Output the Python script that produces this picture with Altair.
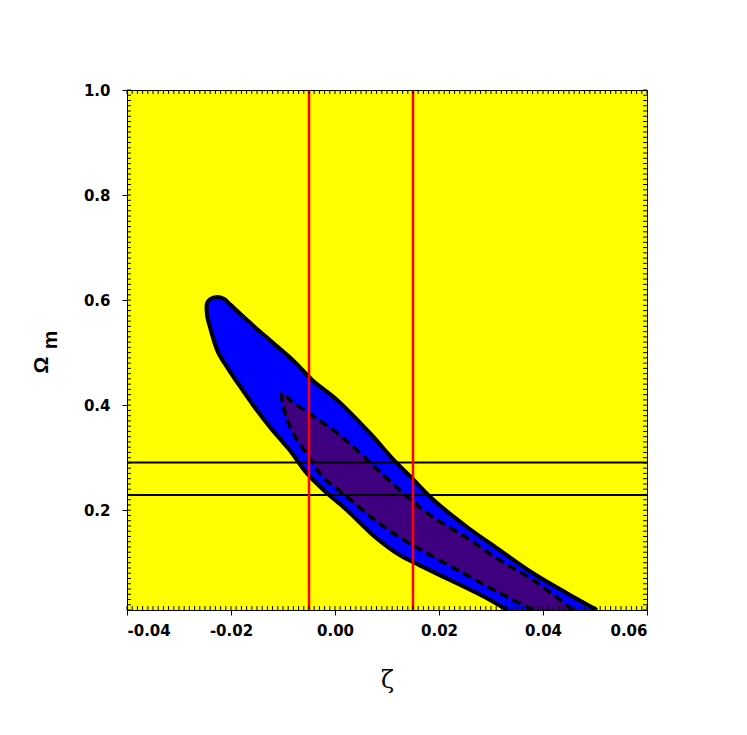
import altair as alt
import pandas as pd

# ---- data ----
# outer (blue) confidence region, from its lower bottom crossing, up the lower edge, round the tip, down the upper edge
outer_zeta = [0.0331, 0.0285, 0.0221, 0.0163, 0.0125, 0.0077, 0.0023, -0.0015, -0.0054, -0.0087,
              -0.0125, -0.0156, -0.0183, -0.0206, -0.0225, -0.0240, -0.0246,
              -0.0246, -0.0240, -0.0227, -0.0213, -0.0202, -0.0167, -0.0121, -0.0077, -0.0044,
              0.0004, 0.0067, 0.0112, 0.0150, 0.0188, 0.0254, 0.0317, 0.0381, 0.0446, 0.0504]
outer_om = [0.010, 0.036, 0.067, 0.095, 0.114, 0.149, 0.200, 0.232, 0.270, 0.314,
            0.358, 0.398, 0.436, 0.470, 0.501, 0.547, 0.571,
            0.594, 0.602, 0.606, 0.602, 0.592, 0.560, 0.520, 0.482, 0.448,
            0.410, 0.347, 0.297, 0.259, 0.221, 0.168, 0.124, 0.080, 0.042, 0.010]

# inner (purple) confidence region
inner_zeta = [0.0381, 0.0317, 0.0254, 0.0188, 0.0125, 0.0073, 0.0015, -0.0023, -0.0054, -0.0081,
              -0.0096, -0.0102, -0.0102,
              -0.0094, -0.0087, -0.0042, 0.0004, 0.0048, 0.0087, 0.0125, 0.0158, 0.0188, 0.0254,
              0.0317, 0.0381, 0.0458]
inner_om = [0.010, 0.042, 0.076, 0.112, 0.148, 0.184, 0.232, 0.263, 0.307, 0.347,
            0.385, 0.410, 0.423,
            0.417, 0.410, 0.379, 0.347, 0.309, 0.272, 0.238, 0.210, 0.187, 0.147,
            0.105, 0.067, 0.010]

red_zeta = [-0.005, 0.015]
black_om = [0.291, 0.229]

x_ticks = [-0.04, -0.02, 0.0, 0.02, 0.04, 0.06]
y_ticks = [0.2, 0.4, 0.6, 0.8, 1.0]
x_minor = [round(-0.04 + 0.001 * i, 3) for i in range(101)]
y_minor = [round(0.01 * i, 2) for i in range(1, 101)]

X_MIN, X_MAX = -0.04, 0.06
Y_MIN, Y_MAX = 0.01, 1.0
W = 520
H = 520
FONT = "DejaVu Sans"
# minor tick length (4 px) expressed in data units of each axis
TX = (X_MAX - X_MIN) * 4 / W
TY = (Y_MAX - Y_MIN) * 4 / H

xs = alt.Scale(domain=[X_MIN, X_MAX], nice=False, zero=False)
ys = alt.Scale(domain=[Y_MIN, Y_MAX], nice=False, zero=False)

x_axis = alt.Axis(values=x_ticks,
                  labelExpr="replace(format(datum.value, '.2f'), '\u2212', '-')",
                  title="ζ", titleFont="DejaVu Serif", titleFontSize=24,
                  titleFontWeight="normal", titlePadding=30, labelPadding=8)
y_axis = alt.Axis(values=y_ticks, format=".1f", title=None, labelPadding=12)

X = alt.X("zeta:Q", scale=xs, axis=x_axis)
Y = alt.Y("om:Q", scale=ys, axis=y_axis)

outer_df = pd.DataFrame({"zeta": outer_zeta, "om": outer_om, "i": list(range(len(outer_zeta)))})
inner_df = pd.DataFrame({"zeta": inner_zeta, "om": inner_om, "i": list(range(len(inner_zeta)))})

CURVE = "catmull-rom"
outer_fill = alt.Chart(outer_df).mark_line(fill="#0000FF", strokeWidth=0, strokeOpacity=0,
                                           interpolate=CURVE, clip=True).encode(x=X, y=Y, order="i:Q")
inner_fill = alt.Chart(inner_df).mark_line(fill="#3F007F", strokeWidth=0, strokeOpacity=0,
                                           interpolate=CURVE, clip=True).encode(x=X, y=Y, order="i:Q")
outer_line = alt.Chart(outer_df).mark_line(color="black", strokeWidth=4, interpolate=CURVE,
                                           clip=True).encode(x=X, y=Y, order="i:Q")
inner_line = alt.Chart(inner_df).mark_line(color="black", strokeWidth=3.5, strokeDash=[9, 5],
                                           interpolate=CURVE, clip=True).encode(x=X, y=Y, order="i:Q")

hrules = alt.Chart(pd.DataFrame({"om": black_om})).mark_rule(color="black", strokeWidth=2).encode(y=Y)
vrules = alt.Chart(pd.DataFrame({"zeta": red_zeta})).mark_rule(color="#FF0000", strokeWidth=2.5).encode(x=X)

xm = pd.DataFrame({"zeta": x_minor})
ym = pd.DataFrame({"om": y_minor})
tick_bottom = alt.Chart(xm).mark_rule(color="black", strokeWidth=1).encode(
    x=X, y=alt.Y(datum=Y_MIN, scale=ys, axis=y_axis), y2=alt.Y2(datum=Y_MIN + TY))
tick_top = alt.Chart(xm).mark_rule(color="black", strokeWidth=1).encode(
    x=X, y=alt.Y(datum=Y_MAX, scale=ys, axis=y_axis), y2=alt.Y2(datum=Y_MAX - TY))
tick_left = alt.Chart(ym).mark_rule(color="black", strokeWidth=1).encode(
    y=Y, x=alt.X(datum=X_MIN, scale=xs, axis=x_axis), x2=alt.X2(datum=X_MIN + TX))
tick_right = alt.Chart(ym).mark_rule(color="black", strokeWidth=1).encode(
    y=Y, x=alt.X(datum=X_MAX, scale=xs, axis=x_axis), x2=alt.X2(datum=X_MAX - TX))

one = pd.DataFrame({"a": [0]})
omega = alt.Chart(one).mark_text(text="Ω", angle=270, font="Liberation Sans", fontSize=21, fontWeight="bold",
                                 color="black", align="center", baseline="middle").encode(
    x=alt.value(-85), y=alt.value(275))
m_txt = alt.Chart(one).mark_text(text="m", angle=270, font="Liberation Sans", fontSize=21, fontWeight="bold",
                                 color="black", align="center", baseline="middle").encode(
    x=alt.value(-76), y=alt.value(250))

chart = alt.layer(
    outer_fill, inner_fill, outer_line, inner_line, hrules, vrules,
    tick_bottom, tick_top, tick_left, tick_right, omega, m_txt
).properties(
    width=W, height=H,
    autosize=alt.AutoSizeParams(type="none"),
    padding={"left": 119, "top": 82, "right": 92, "bottom": 117},
    background="white",
).configure_view(
    fill="#FFFF00", stroke="black", strokeWidth=1
).configure_axis(
    grid=False, labelFont=FONT, labelFontSize=15, labelFontWeight="bold", labelColor="black",
    tickColor="black", tickSize=5, tickWidth=1, domainColor="black", domainWidth=1,
    titleColor="black"
)

chart.save("out.html", embed_options={"renderer": "svg", "actions": False})
